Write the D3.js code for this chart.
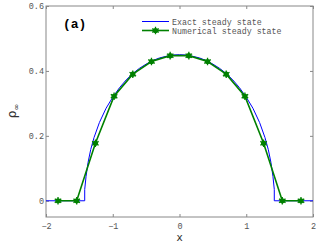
<!DOCTYPE html>
<head>
  <meta charset="utf-8">
  <script src="https://d3js.org/d3.v7.min.js"></script>
  <style>
    body { margin: 0; background: #fff; }
    text { font-family: "Liberation Mono", monospace; }
  </style>
</head>
<body>
<svg width="322" height="242"></svg>

<script type="text/javascript">

// exact steady state
var exactX = [-2, -1.42, -1.42, -1.40, -1.37, -1.33, -1.28, -1.2, -1.1, -1.0, -0.9, -0.8, -0.7, -0.6, -0.5, -0.4, -0.3, -0.2, -0.1, 0,
              0.1, 0.2, 0.3, 0.4, 0.5, 0.6, 0.7, 0.8, 0.9, 1.0, 1.1, 1.2, 1.28, 1.33, 1.37, 1.40, 1.42, 1.42, 2];
var exactY = [0, 0, 0.035, 0.075, 0.118, 0.158, 0.195, 0.241, 0.285, 0.319, 0.348, 0.372, 0.392, 0.408, 0.421, 0.432, 0.440, 0.445, 0.449, 0.45,
              0.449, 0.445, 0.440, 0.432, 0.421, 0.408, 0.392, 0.372, 0.348, 0.319, 0.285, 0.241, 0.195, 0.158, 0.118, 0.075, 0.035, 0, 0];

// numerical steady state (the starred points)
var numX = [-1.82, -1.54, -1.26, -0.98, -0.70, -0.42, -0.14, 0.14, 0.42, 0.70, 0.98, 1.26, 1.54, 1.82];
var numY = [0, 0, 0.177, 0.322, 0.390, 0.429, 0.447, 0.447, 0.429, 0.390, 0.322, 0.177, 0, 0];

var xTicks = [-2, -1, 0, 1, 2];
var yTicks = [0, 0.2, 0.4, 0.6];
var legendLabels = ["Exact steady state", "Numerical steady state"];

var pLeft = 46, pRight = 313, pTop = 6, pBottom = 217;
var svg = d3.select("svg");

var x = d3.scaleLinear().domain([-2, 2]).range([pLeft, pRight]);
var y = d3.scaleLinear().domain([-0.05, 0.6]).range([pBottom, pTop]);

var axisColor = "#888";
var labelColor = "#555";

// frame
svg.append("rect")
  .attr("x", pLeft).attr("y", pTop)
  .attr("width", pRight - pLeft).attr("height", pBottom - pTop)
  .attr("fill", "none").attr("stroke", axisColor).attr("stroke-width", 1);

function styleAxis(g) {
  g.select(".domain").remove();
  g.selectAll(".tick line").attr("stroke", axisColor);
  g.selectAll(".tick text").attr("fill", labelColor)
    .style("font-family", "Liberation Mono").style("font-size", "8.5px");
}

var fmt = function(d) { return d == 0 ? "0" : d3.format(".1f")(d); };
var fmtX = function(d) { return d < 0 ? "\u2212" + (-d) : "" + d; };

svg.append("g").attr("transform", "translate(0," + pBottom + ")")
  .call(d3.axisBottom(x).tickValues(xTicks).tickFormat(fmtX).tickSizeInner(-3).tickPadding(6))
  .call(styleAxis);
svg.append("g").attr("transform", "translate(0," + pTop + ")")
  .call(d3.axisTop(x).tickValues(xTicks).tickFormat("").tickSizeInner(-3))
  .call(styleAxis);
svg.append("g").attr("transform", "translate(" + pLeft + ",0)")
  .call(d3.axisLeft(y).tickValues(yTicks).tickFormat(fmt).tickSizeInner(-3).tickPadding(2))
  .call(styleAxis);
svg.append("g").attr("transform", "translate(" + pRight + ",0)")
  .call(d3.axisRight(y).tickValues(yTicks).tickFormat("").tickSizeInner(-3))
  .call(styleAxis);

var line = d3.line().x(function(d) { return x(d[0]); }).y(function(d) { return y(d[1]); });

svg.append("path")
  .datum(d3.zip(exactX, exactY))
  .attr("d", line)
  .attr("fill", "none").attr("stroke", "#0000ff").attr("stroke-width", 1);

var numPts = d3.zip(numX, numY);
svg.append("path")
  .datum(numPts)
  .attr("d", line)
  .attr("fill", "none").attr("stroke", "#008000").attr("stroke-width", 1.6);

var star = d3.symbol().type(d3.symbolAsterisk).size(40);
function marker(g) {
  g.append("circle").attr("r", 2.6).attr("fill", "#008000");
  g.append("path").attr("d", star).attr("stroke", "#008000").attr("stroke-width", 1.3).attr("fill", "none");
}
svg.selectAll(".pt")
  .data(numPts)
  .enter().append("g")
    .attr("class", "pt")
    .attr("transform", function(d) { return "translate(" + x(d[0]) + "," + y(d[1]) + ")"; })
    .each(function() { marker(d3.select(this)); });

// legend
var leg = svg.append("g");
leg.append("line").attr("x1", 142).attr("x2", 169).attr("y1", 21.5).attr("y2", 21.5)
  .attr("stroke", "#0000ff").attr("stroke-width", 1);
leg.append("line").attr("x1", 142).attr("x2", 169).attr("y1", 30.5).attr("y2", 30.5)
  .attr("stroke", "#008000").attr("stroke-width", 1.6);
leg.append("g").attr("transform", "translate(155.5,30.5)").call(marker);
leg.selectAll("text")
  .data(legendLabels)
  .enter().append("text")
    .attr("x", 172)
    .attr("y", function(d, i) { return 24.5 + i * 9; })
    .attr("fill", labelColor)
    .style("font-size", "8.3px")
    .text(function(d) { return d; });

// panel tag
svg.append("text").attr("x", 63).attr("y", 28)
  .style("font-size", "13px").style("font-weight", "bold").attr("fill", "#000")
  .text("(a)");

// axis titles
svg.append("text").attr("x", x(0)).attr("y", 241)
  .attr("text-anchor", "middle").attr("fill", "#333")
  .style("font-family", "DejaVu Sans").style("font-size", "10.5px")
  .text("x");

var yl = svg.append("text").attr("transform", "translate(16,111) rotate(-90)")
  .attr("text-anchor", "middle").attr("fill", "#333")
  .style("font-family", "DejaVu Sans");
yl.append("tspan").style("font-size", "12px").text("\u03c1");
yl.append("tspan").style("font-size", "8px").attr("dy", 3).text("\u221e");

</script>
</body>
</html>
